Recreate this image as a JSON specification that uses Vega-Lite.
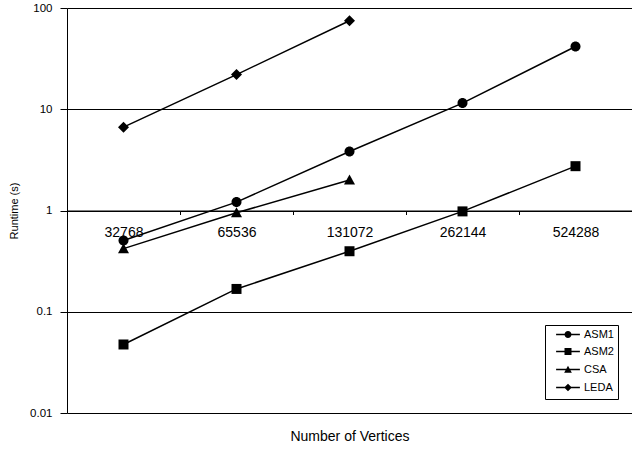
{
  "$schema": "https://vega.github.io/schema/vega-lite/v6.json",
  "width": 565,
  "height": 405,
  "autosize": "none",
  "padding": {"left": 67, "top": 8, "right": 0, "bottom": 38},
  "background": "white",
  "config": {"view": {"stroke": null}, "font": "Liberation Sans"},
  "data": {"values": [
    {"n": "32768", "series": "ASM1", "t": 0.505},
    {"n": "65536", "series": "ASM1", "t": 1.21},
    {"n": "131072", "series": "ASM1", "t": 3.83},
    {"n": "262144", "series": "ASM1", "t": 11.5},
    {"n": "524288", "series": "ASM1", "t": 41.7},
    {"n": "32768", "series": "ASM2", "t": 0.0475},
    {"n": "65536", "series": "ASM2", "t": 0.168},
    {"n": "131072", "series": "ASM2", "t": 0.396},
    {"n": "262144", "series": "ASM2", "t": 0.98},
    {"n": "524288", "series": "ASM2", "t": 2.74},
    {"n": "32768", "series": "CSA", "t": 0.42},
    {"n": "65536", "series": "CSA", "t": 0.95},
    {"n": "131072", "series": "CSA", "t": 2.0},
    {"n": "32768", "series": "LEDA", "t": 6.65},
    {"n": "65536", "series": "LEDA", "t": 22.0},
    {"n": "131072", "series": "LEDA", "t": 74.8}
  ]},
  "encoding": {
    "x": {
      "field": "n", "type": "nominal",
      "sort": ["32768", "65536", "131072", "262144", "524288"],
      "scale": {"type": "band", "paddingInner": 0, "paddingOuter": 0},
      "axis": {
        "title": "Number of Vertices", "labelAngle": 0, "offset": -202.5,
        "domainColor": "black", "domainWidth": 1, "tickColor": "black", "tickSize": 4,
        "tickBand": "extent", "labelFontSize": 14, "labelColor": "black", "labelPadding": 11,
        "titleFontSize": 14, "titleFontWeight": "normal", "titleColor": "black",
        "titleY": 226, "titleBaseline": "middle", "grid": false
      }
    },
    "y": {
      "field": "t", "type": "quantitative",
      "scale": {"type": "log", "domain": [0.01, 100], "nice": false},
      "axis": {
        "title": "Runtime (s)", "values": [0.01, 0.1, 1, 10, 100], "format": "~g",
        "grid": true, "gridColor": "black", "gridOpacity": 1,
        "domainColor": "black", "tickColor": "black", "tickSize": 7, "labelPadding": 8,
        "labelFontSize": 11.5, "labelColor": "black", "titleFontSize": 11,
        "titleFontWeight": "normal", "titleColor": "black", "titleX": -53, "titleBaseline": "middle"
      }
    }
  },
  "layer": [
    {
      "mark": {"type": "line", "color": "black", "strokeWidth": 1.5},
      "encoding": {"detail": {"field": "series"}}
    },
    {
      "mark": {"type": "point", "filled": true, "color": "black", "opacity": 1, "size": 100},
      "encoding": {
        "shape": {
          "field": "series", "type": "nominal",
          "scale": {
            "domain": ["ASM1", "ASM2", "CSA", "LEDA"],
            "range": [
              "M-1,0A1,1,0,1,1,1,0A1,1,0,1,1,-1,0Z",
              "M-1,-1H1V1H-1Z",
              "M0,-1.1L1.1,0.9H-1.1Z",
              "M0,-1.1L1.1,0L0,1.1L-1.1,0Z"
            ]
          },
          "legend": null
        }
      }
    },
    {
      "transform": [{"filter": "false"}],
      "mark": {"type": "point", "filled": true, "color": "black", "opacity": 1},
      "encoding": {
        "shape": {
          "field": "series", "type": "nominal",
          "scale": {
            "domain": ["ASM1", "ASM2", "CSA", "LEDA"],
            "range": [
              "M-3.4,-0.2H3.4V0.2H-3.4ZM-1,0A1,1,0,1,1,1,0A1,1,0,1,1,-1,0Z",
              "M-3.4,-0.2H3.4V0.2H-3.4ZM-1,-1H1V1H-1Z",
              "M-3.4,-0.2H3.4V0.2H-3.4ZM0,-1.1L1.1,0.9H-1.1Z",
              "M-3.4,-0.2H3.4V0.2H-3.4ZM0,-1.1L1.1,0L0,1.1L-1.1,0Z"
            ]
          },
          "legend": {
            "title": null, "orient": "bottom-right", "offset": 14,
            "strokeColor": "black", "padding": 4,
            "labelFontSize": 11, "labelColor": "black", "labelOffset": 10.5,
            "symbolSize": 49, "symbolOffset": 13.5, "rowPadding": 4,
            "symbolOpacity": 1, "symbolFillColor": "black"
          }
        }
      }
    }
  ],
  "resolve": {"scale": {"shape": "independent"}}
}
